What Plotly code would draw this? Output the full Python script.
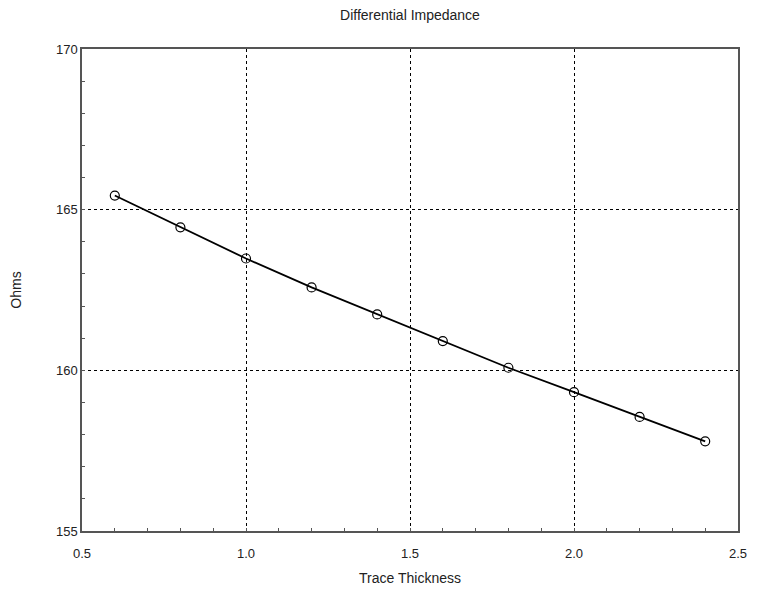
import plotly.graph_objects as go

thickness = [0.6, 0.8, 1.0, 1.2, 1.4, 1.6, 1.8, 2.0, 2.2, 2.4]
ohms = [165.44, 164.45, 163.48, 162.58, 161.74, 160.91, 160.08, 159.32, 158.55, 157.79]

x_ticks = [0.5, 1.0, 1.5, 2.0, 2.5]
y_ticks = [155, 160, 165, 170]

FONT = "Liberation Sans, Arial, sans-serif"
TXT = "#222"

fig = go.Figure()
fig.add_trace(go.Scatter(
    x=thickness, y=ohms, mode="lines+markers",
    line=dict(color="black", width=1.8),
    marker=dict(symbol="circle-open", size=9, color="black", line=dict(width=1.2, color="black")),
    showlegend=False, hoverinfo="skip",
))

axis_common = dict(
    showline=True, linecolor="#555", linewidth=1.5, mirror=True,
    showgrid=True, gridcolor="black", gridwidth=1, griddash="3px,3px",
    ticks="inside", ticklen=3, tickcolor="#555",
    tickfont=dict(family=FONT, size=13, color=TXT),
    zeroline=False,
)

fig.update_layout(
    width=757, height=604,
    margin=dict(l=82, r=10, t=49, b=73),
    paper_bgcolor="white", plot_bgcolor="white",
    title=dict(text="Differential Impedance", x=0.5, xref="paper", y=1 - 15 / 604, yref="container",
               yanchor="middle", font=dict(family=FONT, size=14, color=TXT)),
    xaxis=dict(range=[0.5, 2.5], tickvals=x_ticks, tickformat=".1f", ticklabelstandoff=10,
               minor=dict(dtick=0.1, ticks="inside", ticklen=3, tickcolor="#555", showgrid=False),
               title=dict(text="Trace Thickness", standoff=13, font=dict(family=FONT, size=14, color=TXT)),
               **axis_common),
    yaxis=dict(range=[155, 170], tickvals=y_ticks,
               minor=dict(dtick=1, ticks="inside", ticklen=3, tickcolor="#555", showgrid=False),
               title=dict(text="Ohms", standoff=31, font=dict(family=FONT, size=14, color=TXT)),
               **axis_common),
)

fig.write_html("out.html", config={"displayModeBar": False},
               post_script="document.body.style.margin='0';document.body.style.overflow='hidden';")
